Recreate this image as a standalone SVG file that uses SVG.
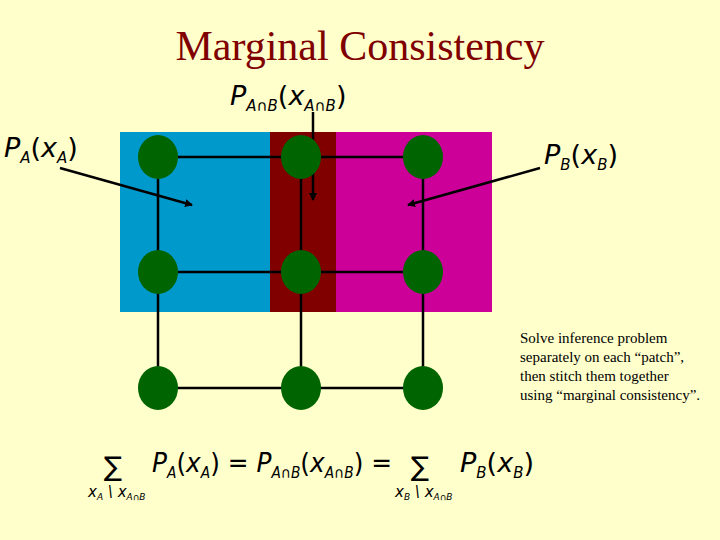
<svg xmlns="http://www.w3.org/2000/svg" width="720" height="540" viewBox="0 0 720 540">
<defs>
<marker id="ah" markerWidth="8" markerHeight="8" refX="7" refY="4" orient="auto" markerUnits="userSpaceOnUse"><path d="M0,0 L8,4 L0,8 Z" fill="#000"/></marker>
<style>
.m{font-family:"DejaVu Sans",sans-serif;font-size:27px;fill:#000}
.i{font-style:italic}
.s{font-size:15px;font-style:italic}
.ln{stroke:#000;stroke-width:2.5;fill:none}
.nd{fill:#006400}
.t{font-family:"Liberation Serif",serif;font-size:15px;fill:#000}
</style>
</defs>
<rect width="720" height="540" fill="#FFFFCC"/>
<text x="360" y="60" text-anchor="middle" font-family="Liberation Serif,serif" font-size="42" fill="#800000">Marginal Consistency</text>
<rect x="120" y="132" width="150" height="180" fill="#0099CC"/>
<rect x="270" y="132" width="66" height="180" fill="#800000"/>
<rect x="336" y="132" width="156" height="180" fill="#CC0099"/>
<g id="connectors">
<path class="ln" d="M158,157H423M158,272H423M158,388H423M158,157V388M301,157V388M423,157V388"/>
<line class="ln" stroke-width="2" x1="60" y1="168" x2="192" y2="205" marker-end="url(#ah)"/>
<line class="ln" stroke-width="2" x1="540" y1="168" x2="408" y2="205" marker-end="url(#ah)"/>
<line class="ln" stroke-width="2" x1="313" y1="112" x2="313" y2="200" marker-end="url(#ah)"/>
</g>
<g id="n1"><ellipse class="nd" cx="158" cy="157" rx="20" ry="22"/></g>
<g id="n2"><ellipse class="nd" cx="301" cy="157" rx="20" ry="22"/></g>
<g id="n3"><ellipse class="nd" cx="423" cy="157" rx="20" ry="22"/></g>
<g id="n4"><ellipse class="nd" cx="158" cy="272" rx="20" ry="22"/></g>
<g id="n5"><ellipse class="nd" cx="301" cy="272" rx="20" ry="22"/></g>
<g id="n6"><ellipse class="nd" cx="423" cy="272" rx="20" ry="22"/></g>
<g id="n7"><ellipse class="nd" cx="158" cy="388" rx="20" ry="22"/></g>
<g id="n8"><ellipse class="nd" cx="301" cy="388" rx="20" ry="22"/></g>
<g id="n9"><ellipse class="nd" cx="423" cy="388" rx="20" ry="22"/></g>
<text class="m" x="4" y="157"><tspan class="i">P</tspan><tspan class="s" dy="6">A</tspan><tspan dy="-6">(</tspan><tspan class="i">x</tspan><tspan class="s" dy="6">A</tspan><tspan dy="-6">)</tspan></text>
<text class="m" x="544" y="164"><tspan class="i">P</tspan><tspan class="s" dy="6">B</tspan><tspan dy="-6">(</tspan><tspan class="i">x</tspan><tspan class="s" dy="6">B</tspan><tspan dy="-6">)</tspan></text>
<text class="m" x="230" y="105"><tspan class="i">P</tspan><tspan class="s" dy="6">A∩B</tspan><tspan dy="-6">(</tspan><tspan class="i">x</tspan><tspan class="s" dy="6">A∩B</tspan><tspan dy="-6">)</tspan></text>
<g class="t"><text x="520" y="343">Solve inference problem</text><text x="520" y="362">separately on each “patch”,</text><text x="520" y="381">then stitch them together</text><text x="520" y="400">using “marginal consistency”.</text></g>
<text class="m" x="104" y="476" font-size="40">∑</text>
<text class="m s" x="88" y="497" font-size="12">x<tspan font-size="9" dy="3">A</tspan><tspan dy="-3"> \ x</tspan><tspan font-size="9" dy="3">A∩B</tspan></text>
<text class="m" x="152" y="472" font-size="25" textLength="240" lengthAdjust="spacingAndGlyphs"><tspan class="i">P</tspan><tspan class="s" dy="6">A</tspan><tspan dy="-6">(</tspan><tspan class="i">x</tspan><tspan class="s" dy="6">A</tspan><tspan dy="-6">) = </tspan><tspan class="i">P</tspan><tspan class="s" dy="6">A∩B</tspan><tspan dy="-6">(</tspan><tspan class="i">x</tspan><tspan class="s" dy="6">A∩B</tspan><tspan dy="-6">) =</tspan></text>
<text class="m" x="411" y="476" font-size="40">∑</text>
<text class="m s" x="395" y="497" font-size="12">x<tspan font-size="9" dy="3">B</tspan><tspan dy="-3"> \ x</tspan><tspan font-size="9" dy="3">A∩B</tspan></text>
<text class="m" x="460" y="472"><tspan class="i">P</tspan><tspan class="s" dy="6">B</tspan><tspan dy="-6">(</tspan><tspan class="i">x</tspan><tspan class="s" dy="6">B</tspan><tspan dy="-6">)</tspan></text>
</svg>
